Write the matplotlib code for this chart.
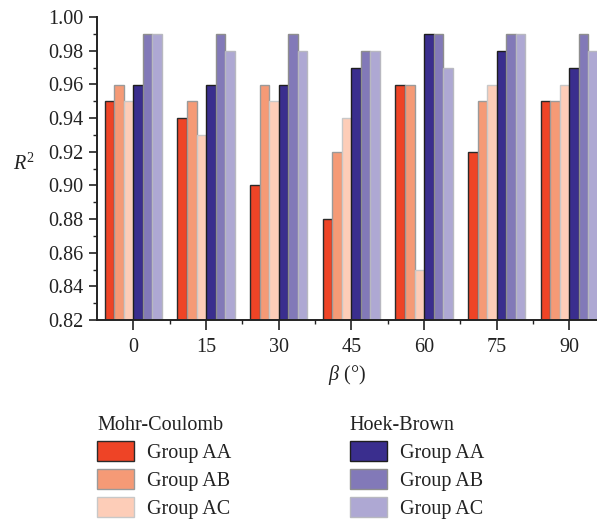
import numpy as np
import matplotlib.pyplot as plt
from matplotlib.patches import Patch
from matplotlib.ticker import MultipleLocator

plt.rcParams['font.family'] = ['Liberation Serif', 'DejaVu Serif']
plt.rcParams['mathtext.fontset'] = 'custom'
plt.rcParams['mathtext.it'] = 'Liberation Serif:italic'
plt.rcParams['mathtext.rm'] = 'Liberation Serif'

angles = ['0', '15', '30', '45', '60', '75', '90']

mc_aa = [0.95, 0.94, 0.90, 0.88, 0.96, 0.92, 0.95]
mc_ab = [0.96, 0.95, 0.96, 0.92, 0.96, 0.95, 0.95]
mc_ac = [0.95, 0.93, 0.95, 0.94, 0.85, 0.96, 0.96]
hb_aa = [0.96, 0.96, 0.96, 0.97, 0.99, 0.98, 0.97]
hb_ab = [0.99, 0.99, 0.99, 0.98, 0.99, 0.99, 0.99]
hb_ac = [0.99, 0.98, 0.98, 0.98, 0.97, 0.99, 0.98]

series = [mc_aa, mc_ab, mc_ac, hb_aa, hb_ab, hb_ac]
colors = ['#ee4426', '#f59a76', '#fdcdb8', '#3a2e8e', '#8279b8', '#aea8d3']
edges = ['#2a2a2a', '#9a9a9a', '#c8c8c8', '#1e1e1e', '#8e8e8e', '#b8b8c0']
names = ['Group AA', 'Group AB', 'Group AC']

fs = 14.5
fig = plt.figure(figsize=(5.97, 5.20), dpi=100)
ax = fig.add_axes([0.1625, 0.3846, 0.8375, 0.5823])

x = np.arange(len(angles))
w = 0.131
for k, vals in enumerate(series):
    ax.bar(x + (k - 2.5) * w, vals, width=w, bottom=0, color=colors[k],
           edgecolor=edges[k], linewidth=1.0, zorder=2)

ax.set_ylim(0.82, 1.00)
ax.set_xlim(-0.5, 6.38)
ax.set_xticks(x)
ax.set_xticklabels(angles)
ax.set_xticks(x[:-1] + 0.5, minor=True)
ax.yaxis.set_major_locator(MultipleLocator(0.02))
ax.yaxis.set_minor_locator(MultipleLocator(0.01))
ax.yaxis.set_major_formatter(plt.FormatStrFormatter('%.2f'))

for s in ['top', 'right']:
    ax.spines[s].set_visible(False)
for s in ['left', 'bottom']:
    ax.spines[s].set_linewidth(1.4)
    ax.spines[s].set_color('#222222')
ax.tick_params(axis='both', which='major', labelsize=fs, length=6, width=1.2,
               color='#222222', labelcolor='#222222')
ax.tick_params(axis='x', which='major', length=7, pad=6)
ax.tick_params(axis='both', which='minor', length=3, width=1.0, color='#222222')

ax.set_ylabel('$R^2$', fontsize=fs, rotation=0, color='#222222')
ax.yaxis.set_label_coords(-0.146, 0.48)
ax.set_xlabel(r'$\beta$ (°)', fontsize=fs, color='#222222', labelpad=4)

mc_handles = [Patch(facecolor=colors[i], edgecolor=edges[i], label=names[i]) for i in range(3)]
hb_handles = [Patch(facecolor=colors[i + 3], edgecolor=edges[i + 3], label=names[i]) for i in range(3)]

leg_kw = dict(frameon=False, fontsize=fs, title_fontsize=fs, handlelength=1.85,
              handleheight=1.15, handletextpad=0.65, labelspacing=0.3,
              alignment='left', borderpad=0, borderaxespad=0, labelcolor='#222222')
leg1 = fig.legend(handles=mc_handles, title='Mohr-Coulomb', loc='upper left',
                  bbox_to_anchor=(0.1625, 0.2), **leg_kw)
leg2 = fig.legend(handles=hb_handles, title='Hoek-Brown', loc='upper left',
                  bbox_to_anchor=(0.586, 0.2), **leg_kw)
for lg in (leg1, leg2):
    lg.get_title().set_color('#222222')

fig.savefig('out.png', dpi=100)
